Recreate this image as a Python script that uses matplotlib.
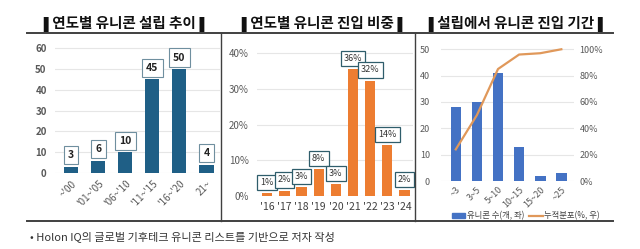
import matplotlib
matplotlib.use("Agg")
import matplotlib.pyplot as plt
from matplotlib.lines import Line2D
from matplotlib.patches import Patch

plt.rcParams['font.family'] = ['Noto Sans CJK KR', 'DejaVu Sans']

# Panel 1 data
p1_cats = ["~'00", "'01~'05", "'06~'10", "'11~'15", "'16~'20", "21~"]
p1_vals = [3, 6, 10, 45, 50, 4]
p1_ticks = [0, 10, 20, 30, 40, 50, 60]

# Panel 2 data
p2_cats = ["'16", "'17", "'18", "'19", "'20", "'21", "'22", "'23", "'24"]
p2_vals = [0.8, 1.5, 2.5, 7.5, 3.3, 35.5, 32.3, 14.3, 1.7]
p2_labels = ["1%", "2%", "3%", "8%", "3%", "36%", "32%", "14%", "2%"]
p2_ticks = [0, 10, 20, 30, 40]

# Panel 3 data
p3_cats = ["~3", "3~5", "5~10", "10~15", "15~20", "~25"]
p3_counts = [28, 30, 41, 13, 2, 3]
p3_cum = [24, 50, 85, 96, 97, 100]
p3_left_ticks = [0, 10, 20, 30, 40, 50]
p3_right_ticks = [0, 20, 40, 60, 80, 100]

titles = ["연도별 유니콘 설립 추이", "연도별 유니콘 진입 비중", "설립에서 유니콘 진입 기간"]
footnote = "• Holon IQ의 글로벌 기후테크 유니콘 리스트를 기반으로 저자 작성"

W, H = 640, 249
fig = plt.figure(figsize=(W / 100, H / 100), dpi=100)

def ax_px(x0, x1, ytop, ybot):
    return fig.add_axes([x0 / W, 1 - ybot / H, (x1 - x0) / W, (ybot - ytop) / H])

grid_c = "#e6e6e6"
tick_c = "#595959"

# ---- Panel 1
ax1 = ax_px(55, 220, 44, 173)
x1 = range(len(p1_vals))
ax1.bar(x1, p1_vals, width=0.52, color="#1f5f86", zorder=2)
ax1.set_ylim(0, 62)
ax1.set_xlim(-0.6, 5.5)
ax1.set_yticks(p1_ticks)
ax1.set_xticks(list(x1))
ax1.set_xticklabels(p1_cats, rotation=45, ha="right", rotation_mode="anchor")
for i, v in enumerate(p1_vals):
    ax1.text(i, v + 5.5, str(v), ha="center", va="center", fontsize=7.5, fontweight="bold",
             color="#222222",
             bbox=dict(boxstyle="square,pad=0.4", fc="white", ec="#6f8f9f", lw=0.8), zorder=3)
ax1.tick_params(axis="y", labelsize=7, colors=tick_c, length=0, pad=6)
ax1.tick_params(axis="x", labelsize=7, colors=tick_c, length=0, pad=4)
for lab in ax1.get_yticklabels():
    lab.set_fontweight("bold")
ax1.yaxis.grid(True, color=grid_c, lw=0.8, zorder=0)
for s in ax1.spines.values():
    s.set_visible(False)

# ---- Panel 2
ax2 = ax_px(257, 413, 46, 196)
x2 = range(len(p2_vals))
ax2.bar(x2, p2_vals, width=0.6, color="#ed7d31", zorder=2)
ax2.set_ylim(0, 42)
ax2.set_xlim(-0.6, 8.5)
ax2.set_yticks(p2_ticks)
ax2.set_yticklabels([f"{t}%" for t in p2_ticks])
ax2.set_xticks(list(x2))
ax2.set_xticklabels(p2_cats)
for i, (v, lab) in enumerate(zip(p2_vals, p2_labels)):
    ax2.text(i, v + 3.0, lab, ha="center", va="center", fontsize=6.5, color="#333333",
             bbox=dict(boxstyle="square,pad=0.35", fc="white", ec="#2f5d6b", lw=0.9), zorder=3)
ax2.tick_params(axis="y", labelsize=7, colors=tick_c, length=0, pad=6)
ax2.tick_params(axis="x", labelsize=7.5, colors="#404040", length=0, pad=4)
ax2.yaxis.grid(True, color=grid_c, lw=0.8, zorder=0)
for s in ax2.spines.values():
    s.set_visible(False)

# ---- Panel 3
ax3 = ax_px(441, 574, 44, 181)
x3 = range(len(p3_counts))
ax3.bar(x3, p3_counts, width=0.5, color="#4472c4", zorder=2)
ax3.set_ylim(0, 52)
ax3.set_xlim(-0.7, 5.6)
ax3.set_yticks(p3_left_ticks)
ax3.set_xticks(list(x3))
ax3.set_xticklabels(p3_cats, rotation=45, ha="right", rotation_mode="anchor")
ax3.tick_params(axis="y", labelsize=6.5, colors=tick_c, length=0, pad=8)
ax3.tick_params(axis="x", labelsize=6.5, colors=tick_c, length=0, pad=3)
ax3.yaxis.grid(True, color=grid_c, lw=0.8, zorder=0)
for s in ax3.spines.values():
    s.set_visible(False)
ax3r = ax3.twinx()
ax3r.plot(list(x3), p3_cum, color="#e0985a", lw=1.6, zorder=4)
ax3r.set_ylim(0, 104)
ax3r.set_yticks(p3_right_ticks)
ax3r.set_yticklabels([f"{t}%" for t in p3_right_ticks])
ax3r.tick_params(axis="y", labelsize=6.5, colors=tick_c, length=0, pad=4)
for s in ax3r.spines.values():
    s.set_visible(False)

fig.legend([Patch(color="#4472c4"), Line2D([0], [0], color="#e0985a", lw=1.6)],
           ["유니콘 수(개, 좌)", "누적분포(%, 우)"],
           loc="center", bbox_to_anchor=(526 / W, 1 - 216 / H), ncol=2, frameon=False,
           fontsize=6, handlelength=1.6, handleheight=0.5, columnspacing=0.6,
           handletextpad=0.2, labelcolor="#404040", borderpad=0.1)

# ---- Titles and frame lines
title_x = [124, 322, 516]
for t, x in zip(titles, title_x):
    fig.text(x / W, 1 - 24 / H, "\u275a" + t + "\u275a", ha="center", va="center",
             fontsize=10.5, fontweight="bold", color="#111111")

lc = "#404040"
fig.add_artist(Line2D([27 / W, 613 / W], [1 - 33 / H, 1 - 33 / H], color=lc, lw=1.4))
fig.add_artist(Line2D([27 / W, 613 / W], [1 - 221 / H, 1 - 221 / H], color=lc, lw=1.4))
for xs in (221, 415):
    fig.add_artist(Line2D([xs / W, xs / W], [1 - 33 / H, 1 - 221 / H], color=lc, lw=1.0))

fig.text(30 / W, 1 - 237 / H, footnote, ha="left", va="center", fontsize=8, color="#333333")

fig.savefig("out.png", dpi=100)
